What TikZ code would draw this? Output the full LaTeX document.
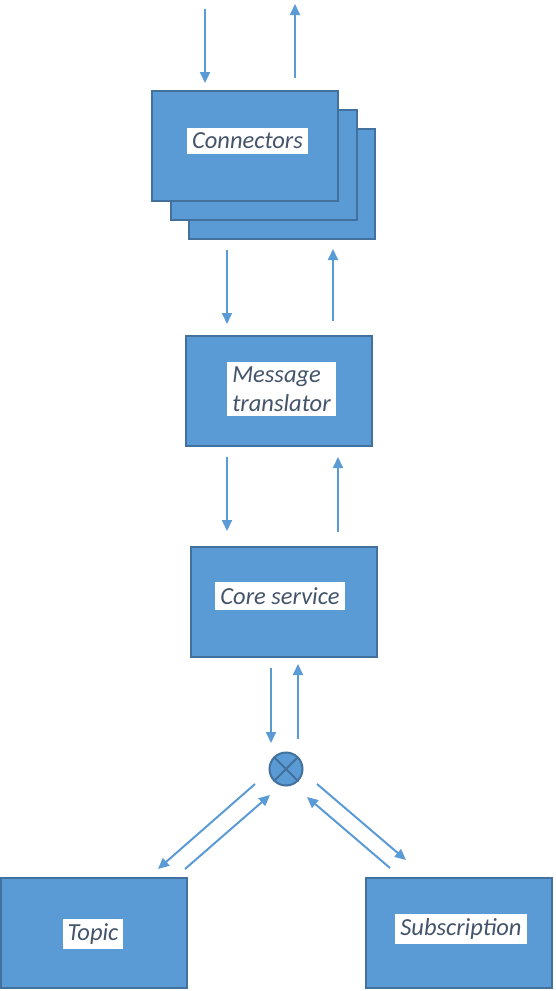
\documentclass[tikz,border=0pt]{standalone}
\usepackage{fontspec}
\setmainfont{Carlito}
\usetikzlibrary{arrows.meta}
\definecolor{boxfill}{HTML}{5B9BD5}
\definecolor{boxline}{HTML}{41719C}
\definecolor{labeltext}{HTML}{44546A}
\tikzset{
  block/.style={draw=boxline, fill=boxfill, line width=2pt, minimum width=186pt, minimum height=110pt, inner sep=0pt},
  tag/.style={fill=white, text=labeltext, font=\fontsize{24.5}{29}\selectfont\itshape, inner xsep=5pt, inner ysep=5pt, align=left},
  flow/.style={draw=boxfill, line width=2pt, -{Triangle[length=11pt,width=10pt]}}
}
\begin{document}
\begin{tikzpicture}[x=1pt, y=-1pt]
  \useasboundingbox (0,0) rectangle (555,991);
  % connector stack
  \node[block] (conn3) at (282, 184) {};
  \node[block] (conn2) at (263.5, 165) {};
  \node[block] (conn1) at (245, 146) {};
  \node[tag] (connlbl) at (247.5, 141) {Connectors};
  % middle blocks
  \node[block] (trans) at (278.5, 391) {};
  \node[tag] (translbl) at (281.5, 389) {Message\\translator};
  \node[block] (core) at (283.5, 601.5) {};
  \node[tag] (corelbl) at (280, 596) {Core service};
  % bottom blocks
  \node[block] (topic) at (94, 933) {};
  \node[tag] (topiclbl) at (93, 934) {Topic};
  \node[block] (subs) at (459, 933) {};
  \node[tag] (subslbl) at (461, 929) {Subscription};
  % router
  \node[circle, draw=boxline, fill=boxfill, line width=2pt, minimum size=33pt, inner sep=0pt] (hub) at (286, 769) {};
  \draw[boxline, line width=2pt] (hub.45) -- (hub.225) (hub.135) -- (hub.315);
  % arrow ends
  \coordinate (inA) at (205, 9);    \coordinate (inB) at (205, 83);
  \coordinate (outA) at (295, 78);  \coordinate (outB) at (295, 4);
  \coordinate (c2tA) at (227, 250); \coordinate (c2tB) at (227, 324);
  \coordinate (t2cA) at (333, 321); \coordinate (t2cB) at (333, 249);
  \coordinate (t2sA) at (227, 457); \coordinate (t2sB) at (227, 531);
  \coordinate (s2tA) at (338, 532); \coordinate (s2tB) at (338, 457);
  \coordinate (s2hA) at (271, 668); \coordinate (s2hB) at (271, 743);
  \coordinate (h2sA) at (298, 739); \coordinate (h2sB) at (298, 664);
  \coordinate (h2tA) at (255, 784); \coordinate (h2tB) at (158, 869);
  \coordinate (t2hA) at (185, 869); \coordinate (t2hB) at (270, 795);
  \coordinate (h2bA) at (317, 784); \coordinate (h2bB) at (406, 860);
  \coordinate (b2hA) at (390, 868); \coordinate (b2hB) at (307, 797);
  \draw[flow] (inA) -- (inB);
  \draw[flow] (outA) -- (outB);
  \draw[flow] (c2tA) -- (c2tB);
  \draw[flow] (t2cA) -- (t2cB);
  \draw[flow] (t2sA) -- (t2sB);
  \draw[flow] (s2tA) -- (s2tB);
  \draw[flow] (s2hA) -- (s2hB);
  \draw[flow] (h2sA) -- (h2sB);
  \draw[flow] (h2tA) -- (h2tB);
  \draw[flow] (t2hA) -- (t2hB);
  \draw[flow] (h2bA) -- (h2bB);
  \draw[flow] (b2hA) -- (b2hB);
\end{tikzpicture}
\end{document}
